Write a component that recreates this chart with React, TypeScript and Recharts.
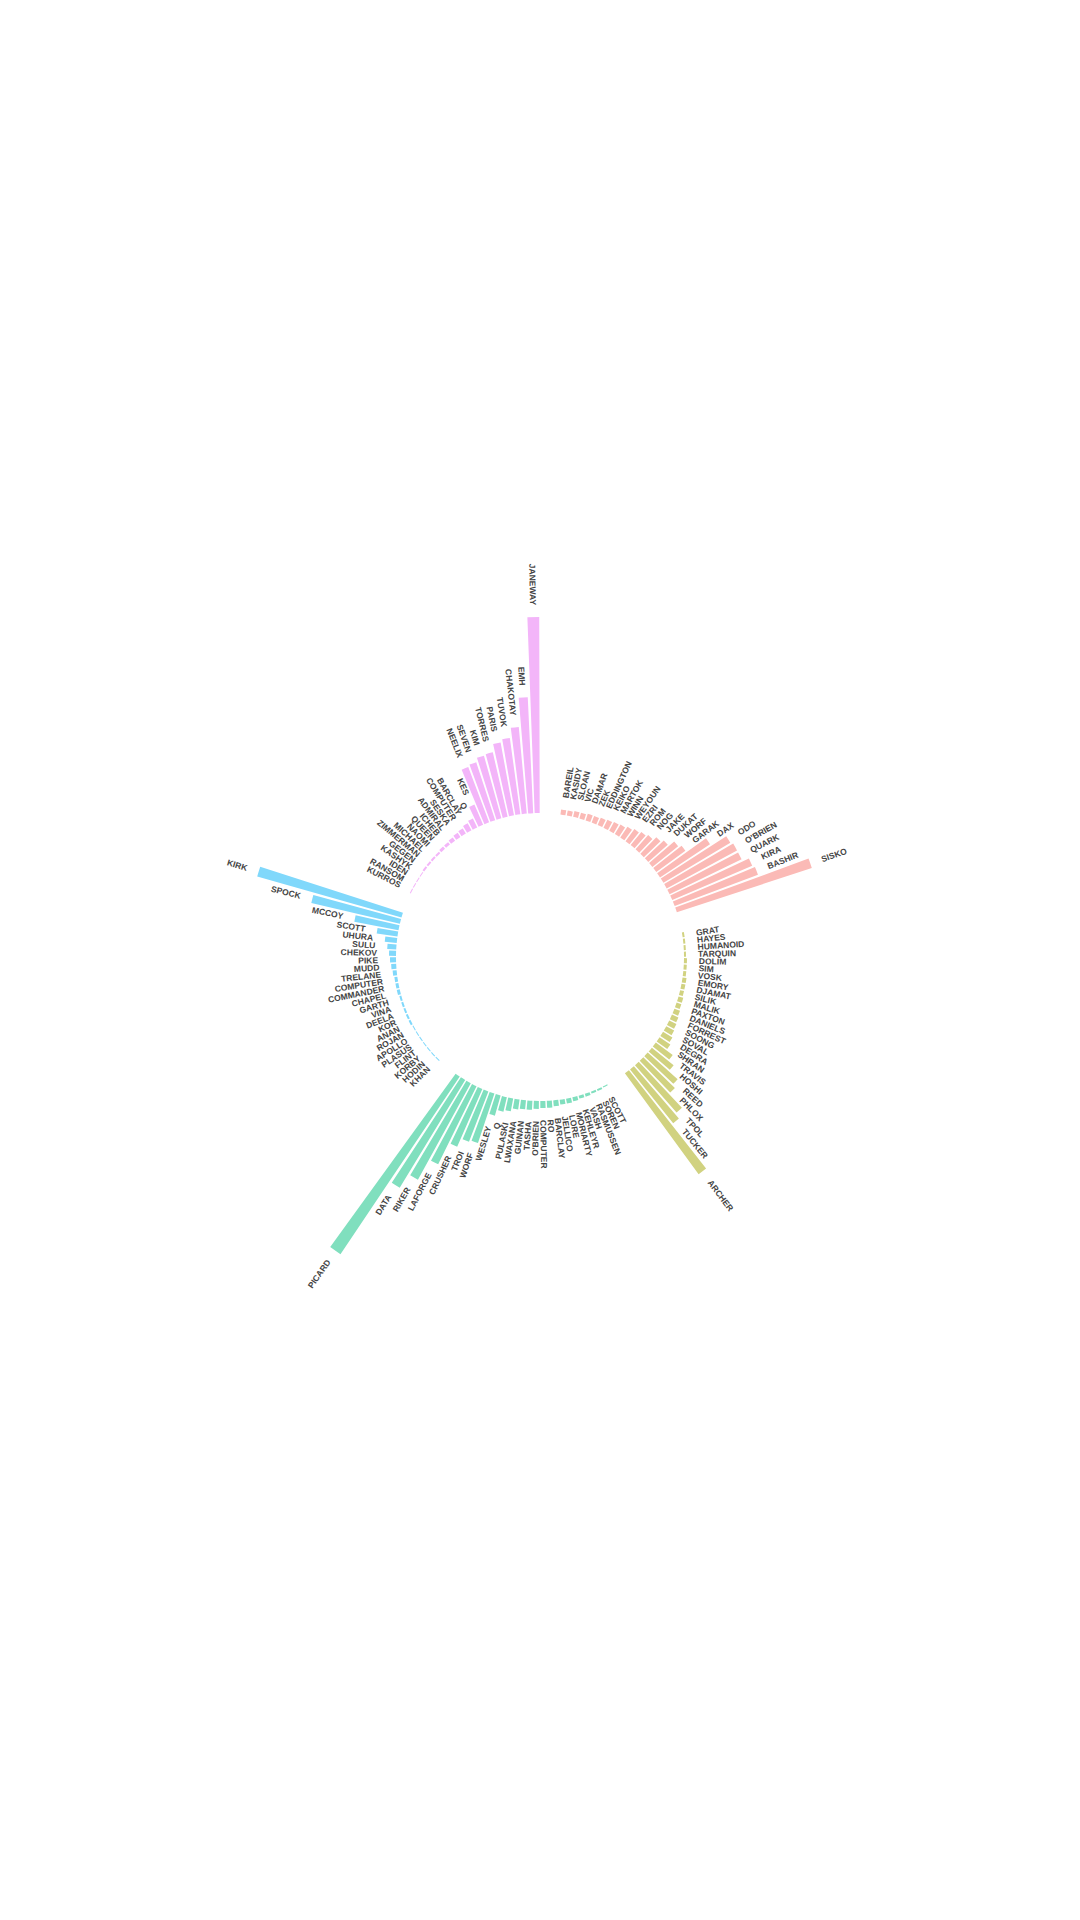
import React from 'react';
import { RadialBarChart, RadialBar, PolarAngleAxis, PolarRadiusAxis, LabelList, Cell } from 'recharts';

// each series: characters sorted ascending, as they appear clockwise
const DS9_NAMES = ['BAREIL', 'KASIDY', 'SLOAN', 'VIC', 'DAMAR', 'ZEK', 'EDDINGTON', 'KEIKO', 'MARTOK', 'WINN', 'WEYOUN', 'EZRI', 'ROM', 'NOG', 'JAKE', 'DUKAT', 'WORF', 'GARAK', 'DAX', 'ODO', "O'BRIEN", 'QUARK', 'KIRA', 'BASHIR', 'SISKO'];
const DS9_VALUES = [5, 5, 6, 6, 7, 7, 8, 9, 10, 11, 13, 15, 17, 19, 23, 26, 33, 36, 60, 78, 80, 80, 87, 89, 142];

const ENT_NAMES = ['GRAT', 'HAYES', 'HUMANOID', 'TARQUIN', 'DOLIM', 'SIM', 'VOSK', 'EMORY', 'DJAMAT', 'SILIK', 'MALIK', 'PAXTON', 'DANIELS', 'FORREST', 'SOONG', 'SOVAL', 'DEGRA', 'SHRAN', 'TRAVIS', 'HOSHI', 'REED', 'PHLOX', 'TPOL', 'TUCKER', 'ARCHER'];
const ENT_VALUES = [2, 2, 2, 2, 3, 3, 3, 4, 4, 4, 5, 5, 6, 7, 8, 9, 11, 13, 21, 28, 40, 44, 63, 69, 125];

const TNG_NAMES = ['SCOTT', 'SOREN', 'RASMUSSEN', 'VASH', 'KEHLEYR', 'MORIARTY', 'LORE', 'JELLICO', 'BARCLAY', 'RO', 'COMPUTER', "O'BRIEN", 'TASHA', 'GUINAN', 'LWAXANA', 'PULASKI', 'Q', 'WESLEY', 'WORF', 'TROI', 'CRUSHER', 'LAFORGE', 'RIKER', 'DATA', 'PICARD'];
const TNG_VALUES = [1, 2, 2, 3, 3, 4, 5, 5, 6, 7, 7, 8, 9, 9, 10, 13, 15, 21, 52, 54, 63, 87, 110, 126, 214];

const TOS_NAMES = ['KHAN', 'HODIN', 'KORBY', 'FLINT', 'PLASUS', 'APOLLO', 'ROJAN', 'ANAN', 'KOR', 'DEELA', 'VINA', 'GARTH', 'CHAPEL', 'COMMANDER', 'COMPUTER', 'TRELANE', 'MUDD', 'PIKE', 'CHEKOV', 'SULU', 'UHURA', 'SCOTT', 'MCCOY', 'SPOCK', 'KIRK'];
const TOS_VALUES = [1, 1, 1, 1, 1, 1, 1, 2, 2, 2, 2, 2, 3, 3, 3, 4, 5, 6, 7, 9, 12, 21, 45, 91, 150];

const VOY_NAMES = ['KURROS', 'RANSOM', 'IDEN', 'KASHYK', 'GEGEN', 'ZIMMERMAN', 'MICHAEL', 'NAOMI', 'QUEEN', 'ICHEB', 'ADMIRAL', 'SESKA', 'COMPUTER', 'BARCLAY', 'Q', 'KES', 'NEELIX', 'SEVEN', 'KIM', 'TORRES', 'PARIS', 'TUVOK', 'CHAKOTAY', 'EMH', 'JANEWAY'];
const VOY_VALUES = [1, 1, 1, 1, 2, 2, 2, 2, 3, 3, 4, 5, 6, 8, 10, 22, 59, 61, 65, 66, 74, 77, 87, 116, 196];

const GROUPS = ['DS9', 'ENT', 'TNG', 'TOS', 'VOY'];
const GROUP_NAMES = [DS9_NAMES, ENT_NAMES, TNG_NAMES, TOS_NAMES, VOY_NAMES];
const GROUP_VALUES = [DS9_VALUES, ENT_VALUES, TNG_VALUES, TOS_VALUES, VOY_VALUES];
const GROUP_COLORS = ['#FBBAB6', '#D1D280', '#80DFBE', '#80D8FB', '#F3B5F9'];

const EMPTY_BARS = 3;
const LABEL_OFFSET = 12;

// empty slots open a gap before every group
const rows: any[] = [];
GROUPS.forEach((group, g) => {
  for (let i = 0; i < EMPTY_BARS; i++) {
    rows.push({ id: rows.length, name: '', value: null, group, fill: GROUP_COLORS[g] });
  }
  GROUP_NAMES[g].forEach((name, i) => {
    rows.push({ id: rows.length, name, value: GROUP_VALUES[g][i], group, fill: GROUP_COLORS[g] });
  });
});

// recharts draws each sector one band counter-clockwise, so turn the circle by one band
const BAND = 360 / rows.length;

const renderLabel = (props: any) => {
  const { viewBox, value } = props;
  if (!value || !viewBox) return null;
  const { cx, cy, outerRadius, startAngle, endAngle } = viewBox;
  const mid = (startAngle + endAngle) / 2;
  const r = outerRadius + LABEL_OFFSET;
  const rad = (mid * Math.PI) / 180;
  const x = cx + r * Math.cos(rad);
  const y = cy - r * Math.sin(rad);
  const bearing = (((90 - mid) % 360) + 360) % 360;
  const left = bearing > 180;
  const rot = left ? 180 - mid : -mid;
  return (
    <text
      x={x}
      y={y}
      transform={`rotate(${rot}, ${x}, ${y})`}
      textAnchor={left ? 'end' : 'start'}
      dominantBaseline="central"
      fontFamily="'Liberation Sans', Arial, sans-serif"
      fontWeight="bold"
      fontSize={8.5}
      fill="#444"
    >
      {value}
    </text>
  );
};

export default function App() {
  return (
    <div style={{ position: 'absolute', left: 0, top: 0, width: 1080, height: 1920, background: '#fff' }}>
      <RadialBarChart
        width={1080}
        height={1920}
        data={rows}
        cx={540}
        cy={957}
        innerRadius={144}
        outerRadius={384}
        startAngle={90 - BAND}
        endAngle={-270 - BAND}
        layout="centric"
        barCategoryGap="5%"
      >
        <PolarAngleAxis dataKey="id" type="category" tick={false} axisLine={false} tickLine={false} />
        <PolarRadiusAxis type="number" domain={[0, 240]} allowDataOverflow tick={false} axisLine={false} />
        <RadialBar dataKey="value" isAnimationActive={false}>
          {rows.map((row) => (
            <Cell key={row.id} fill={row.fill} />
          ))}
          <LabelList dataKey="name" content={renderLabel} />
        </RadialBar>
      </RadialBarChart>
    </div>
  );
}
